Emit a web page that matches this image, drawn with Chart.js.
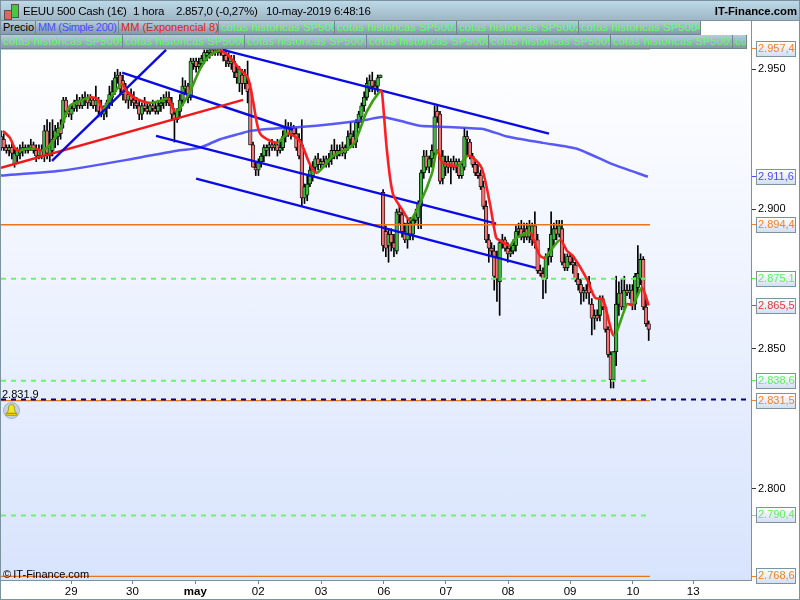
<!DOCTYPE html>
<html>
<head>
<meta charset="utf-8">
<style>
  html, body { margin: 0; padding: 0; background: #fff; }
  #page { position: relative; width: 800px; height: 600px; overflow: hidden; font-family: "Liberation Sans", sans-serif; }
  #page div { position: absolute; box-sizing: border-box; }
  #plotBg { left: 1px; top: 48px; width: 750px; height: 532px; background: linear-gradient(#ffffff, #d8e4fd); }
  canvas { position: absolute; left: 0; top: 0; }
  #head { left: 0; top: 0; width: 800px; height: 21px; background: linear-gradient(#bcd9e8, #9fb6c4); border: 1px solid #7c929f; font-size: 11.5px; letter-spacing: -.25px; line-height: 20px; white-space: pre; color: #000; }
  .tab { height: 14px; background: linear-gradient(#b4cedc, #8299a8); border-right: 1px solid #6f8591; border-bottom: 1px solid #6f8591; font-size: 11px; line-height: 13px; padding-left: 2px; color: #66ff66; white-space: nowrap; overflow: hidden; letter-spacing: .2px; }
  #frameR { left: 751px; top: 20px; width: 1px; height: 561px; background: #7c929f; }
  #frameB { left: 0; top: 580px; width: 752px; height: 1px; background: #7c929f; }
  #frameL { left: 0; top: 20px; width: 1px; height: 580px; background: #7c929f; }
  #frameO { left: 799px; top: 0; width: 1px; height: 600px; background: #7c929f; }
  #frameU { left: 0; top: 599px; width: 800px; height: 1px; background: #7c929f; }
</style>
<script src="https://cdn.jsdelivr.net/npm/chart.js@4"></script>
</head>
<body>
<div id="page">
  <div id="plotBg"></div>
  <canvas id="chart" width="800" height="600"></canvas>
  <div id="head"></div>
  <div id="tabs"></div>
  <div id="frameR"></div><div id="frameB"></div><div id="frameL"></div><div id="frameO"></div><div id="frameU"></div>
  <div style="left:2px;top:388px;font-size:11px;line-height:13px;color:#000">2.831,9</div>
  <svg style="position:absolute;left:3px;top:402px" width="17" height="17" viewBox="0 0 17 17">
    <circle cx="8.5" cy="8.5" r="8" fill="#c3d2e2" stroke="#9fb2c6"/>
    <path d="M8.5 2.5c-2.4 0-3 2-3 4 0 2.5-1 3.7-2 4.700h10c-1-1-2-2.200-2-4.700 0-2-.6-4-3-4z" fill="#f6e61c" stroke="#8a7c10" stroke-width=".7"/>
    <rect x="3" y="11.500" width="11" height="1.800" fill="#e8c90c" stroke="#8a7c10" stroke-width=".5"/>
  </svg>
  <div style="left:3px;top:568px;font-size:11px;line-height:13px;color:#000">©&#8201;IT-Finance.com</div>
</div>

<script>
// bougies 1 hora, de izquierda a derecha
const opens = [
  2926,2925,2922,2921,2922,2916,2919,2920,2921,2922, 2921,2922,2923,2921,2919,2921,2919,2928,2919,2921,
  2925,2926,2929,2931,2939,2935,2934,2936,2937,2939, 2937,2939,2940,2938,2939,2937,2939,2937,2934,2936,
  2938,2940,2942,2947,2948,2946,2943,2939,2941,2939, 2938,2937,2934,2937,2936,2935,2937,2936,2935,2937,
  2938,2939,2940,2938,2934,2932,2935,2939,2943,2944, 2940,2952,2953,2951,2952,2953,2955,2956,2957,2956,
  2957,2956,2957,2955,2953,2952,2953,2949,2945,2948, 2945,2945,2943,2923,2915,2914,2917,2919,2921,2922,
  2923,2922,2923,2921,2922,2926,2929,2927,2929,2927, 2925,2923,2904,2905,2909,2912,2915,2918,2916,2917,
  2916,2918,2918,2921,2919,2921,2922,2920,2922,2925, 2926,2924,2931,2933,2937,2940,2943,2946,2944,2944,
  2947,2906,2892,2887,2891,2888,2885,2899,2898,2892, 2889,2895,2891,2896,2897,2901,2913,2919,2915,2918,
  2920,2935,2934,2911,2915,2917,2915,2917,2915,2917, 2912,2915,2926,2924,2919,2916,2913,2912,2908,2901,
  2889,2886,2885,2883,2874,2888,2889,2886,2884,2885, 2887,2892,2893,2890,2893,2890,2889,2894,2889,2878,
  2877,2875,2883,2883,2889,2893,2891,2893,2881,2879, 2883,2881,2880,2875,2873,2870,2871,2874,2866,2861,
  2862,2862,2868,2865,2857,2848,2839,2849,2866,2870, 2865,2871,2870,2871,2866,2872,2875,2882,2865,2859
];
const highs = [
  2928,2927,2923,2923,2924,2922,2922,2923,2924,2923, 2923,2925,2924,2923,2923,2923,2930,2932,2931,2932,
  2930,2931,2932,2940,2940,2936,2937,2939,2941,2940, 2941,2942,2941,2941,2940,2944,2940,2939,2937,2939,
  2944,2946,2949,2950,2949,2948,2945,2942,2943,2942, 2940,2939,2938,2940,2938,2938,2939,2938,2939,2940,
  2941,2942,2942,2940,2936,2936,2941,2947,2946,2945, 2954,2954,2954,2954,2955,2957,2957,2958,2958,2958,
  2958,2958,2958,2957,2956,2955,2955,2951,2951,2950, 2950,2953,2945,2924,2917,2918,2920,2923,2923,2924,
  2925,2924,2925,2924,2928,2932,2931,2931,2930,2929, 2927,2932,2909,2912,2916,2917,2919,2920,2918,2919,
  2919,2920,2923,2925,2923,2923,2924,2923,2928,2931, 2928,2932,2935,2938,2942,2947,2948,2949,2946,2948,
  2948,2907,2894,2893,2893,2891,2900,2901,2899,2895, 2897,2897,2897,2900,2903,2914,2921,2921,2919,2923,
  2937,2937,2935,2921,2919,2919,2918,2919,2918,2918, 2917,2929,2928,2925,2920,2917,2916,2914,2910,2903,
  2891,2888,2887,2885,2889,2891,2890,2888,2887,2889, 2894,2895,2896,2895,2895,2896,2895,2899,2891,2880,
  2879,2884,2886,2899,2895,2896,2896,2896,2884,2884, 2884,2883,2881,2877,2875,2872,2873,2876,2868,2864,
  2864,2869,2869,2866,2858,2849,2849,2876,2874,2875, 2876,2873,2873,2873,2877,2887,2884,2883,2868,2860
];
const lows = [
  2921,2921,2920,2919,2918,2915,2917,2918,2919,2920, 2920,2921,2920,2917,2918,2918,2917,2918,2917,2919,
  2922,2923,2925,2929,2933,2933,2932,2935,2935,2936, 2936,2937,2936,2937,2936,2935,2933,2933,2932,2933,
  2936,2937,2941,2945,2941,2939,2938,2936,2937,2936, 2936,2932,2932,2935,2934,2934,2935,2934,2934,2935,
  2936,2937,2937,2932,2924,2931,2933,2937,2941,2938, 2939,2950,2949,2950,2951,2952,2953,2954,2955,2955,
  2955,2955,2953,2951,2951,2950,2947,2945,2942,2941, 2943,2938,2923,2915,2912,2912,2915,2917,2919,2919,
  2921,2921,2919,2920,2921,2924,2926,2925,2926,2921, 2918,2901,2902,2903,2908,2910,2913,2914,2914,2915,
  2915,2915,2916,2918,2918,2919,2919,2918,2921,2923, 2922,2922,2929,2931,2935,2939,2942,2942,2941,2942,
  2947,2885,2883,2881,2885,2883,2884,2895,2890,2888, 2886,2889,2889,2895,2893,2893,2911,2914,2913,2915,
  2919,2931,2909,2909,2912,2913,2909,2914,2913,2911, 2911,2914,2919,2918,2915,2912,2911,2907,2900,2888,
  2881,2883,2871,2867,2862,2886,2885,2881,2883,2884, 2885,2890,2889,2888,2889,2888,2887,2886,2877,2876,
  2868,2870,2880,2881,2887,2889,2890,2880,2878,2878, 2880,2877,2874,2871,2866,2867,2868,2866,2855,2857,
  2860,2860,2864,2856,2847,2836,2836,2844,2862,2864, 2864,2869,2868,2864,2864,2870,2873,2864,2858,2853
];
const closes = [
  2922,2922,2921,2922,2920,2920,2921,2921,2922,2921, 2922,2923,2921,2919,2921,2919,2928,2920,2923,2925,
  2928,2929,2927,2939,2935,2934,2936,2938,2939,2937, 2939,2940,2938,2939,2937,2939,2935,2934,2936,2938,
  2941,2942,2947,2948,2943,2941,2939,2941,2939,2938, 2937,2934,2937,2936,2935,2937,2936,2935,2937,2938,
  2939,2940,2938,2934,2932,2935,2939,2944,2944,2940, 2953,2953,2951,2952,2954,2956,2956,2957,2956,2957,
  2956,2957,2955,2953,2952,2953,2949,2947,2950,2945, 2948,2942,2923,2915,2914,2917,2919,2922,2922,2923,
  2922,2923,2921,2922,2926,2929,2927,2929,2927,2922, 2919,2904,2908,2909,2914,2915,2918,2916,2917,2916,
  2918,2917,2921,2919,2921,2920,2920,2922,2926,2927, 2923,2931,2934,2937,2940,2945,2946,2944,2943,2947,
  2948,2887,2886,2891,2888,2886,2899,2898,2892,2889, 2895,2891,2896,2898,2902,2913,2919,2915,2918,2921,
  2933,2933,2910,2919,2917,2915,2917,2915,2917,2912, 2916,2926,2925,2919,2916,2913,2912,2908,2901,2889,
  2886,2885,2876,2875,2888,2889,2886,2884,2885,2887, 2892,2893,2890,2892,2890,2894,2894,2888,2878,2877,
  2875,2883,2884,2891,2893,2891,2894,2881,2879,2883, 2881,2880,2875,2873,2870,2871,2870,2870,2861,2862,
  2861,2868,2865,2857,2848,2839,2849,2866,2870,2865, 2871,2870,2871,2866,2876,2877,2882,2865,2859,2857
];

// medias moviles
const emaX = [0.7,3.3,5.2,7,9.6,12.5,15.1,17,19.2,21.8,23.6,25.5,29.2,32.8,35.4,37.6,40.2,44.6,46.5,49.4,52,55,58.7,61.6,64.2,66,69.7,73.4,77,80.8,83.8,88.2,91.1,93,95.6,101.8,105.9,110.3,114,116.6,122.5,129.9,135,139.9,140.6,142.4,144.6,148.3,150.9,154.6,159,160.9,163,168.6,172,174.2,177.5,180.4,182.7,184.1,187.8,189.7,195.2,197,198.9,200.7,206.3,208.9,211,216.2,219.2,222.1,226.2,231,233.2,236.5,239];
const emaY = [2928,2925.5,2921.6,2921,2921.6,2921.6,2921,2922,2924.4,2928.7,2933,2937,2938.7,2940,2939.5,2936,2939.5,2944.8,2942,2939.8,2938.7,2938,2938.7,2939.5,2935,2936,2942,2950,2955,2956.6,2955,2950,2947,2938.7,2927,2923.7,2927,2924.4,2916,2913,2919,2923,2935,2942.3,2941.6,2921,2905.5,2899.4,2896,2902,2912.7,2921,2916.6,2915.5,2919,2918.4,2914.4,2902,2889.8,2888.7,2887,2889.4,2891.6,2887.6,2883.3,2882.6,2889,2885,2883.3,2875,2868.3,2867.6,2854.7,2866,2865.8,2871.9,2865.5];
const smaX = [0,21.8,48.7,64.9,73.4,80.8,88.2,91.9,98.2,110.3,122.5,135,140.6,147.2,154.6,162,172,177.9,186.7,200,212.5,225.8,238.7];
const smaY = [2912,2913.7,2918,2920.9,2922,2925,2927,2928,2928.7,2929.4,2930.5,2932,2933,2931.6,2929.8,2929.5,2929,2928.7,2926,2923.7,2921.6,2916,2911.6];

// lineas de tendencia: [x1, precio1, x2, precio2]
const upLine = [18.8, 2917.3, 60.9, 2957];
const redLine = [0, 2914.8, 89.3, 2939.1];
const channelA = [44.7, 2948.8, 107.7, 2928.4];
const channelB = [57.2, 2926.2, 182.7, 2894.8];
const channelC = [72, 2910.9, 197.4, 2879];
const channelD = [81.9, 2957, 202.2, 2927];

// niveles horizontales
const greenLevels = [2875.1, 2838.6, 2790.4];
const orangeLevels = [2957.4, 2894.4, 2831.5, 2768.6];
const alertLevel = 2831.9;

// ejes
const dayTicks = [25.9, 48.5, 71.7, 94.9, 118.1, 141.3, 164.2, 187.1, 210, 233.2, 255.4];
const dayLabels = ['29', '30', 'may', '02', '03', '06', '07', '08', '09', '10', '13'];
const priceTicks = [2950, 2900, 2850, 2800];
const priceLabels = ['2.950', '2.900', '2.850', '2.800'];
const tagValues = [2957.4, 2911.6, 2894.4, 2875.1, 2865.5, 2838.6, 2831.5, 2790.4, 2768.6];
const tagLabels = ['2.957,4', '2.911,6', '2.894,4', '2.875,1', '2.865,5', '2.838,6', '2.831,5', '2.790,4', '2.768,6'];
const tagColors = ['#f08428', '#4a4aff', '#f08428', '#5cf25c', '#e03c3c', '#5cf25c', '#f08428', '#5cf25c', '#f08428'];

// cabecera y pestañas
const headLefts = [22, 132, 175, 265];
const headTexts = ['EEUU 500 Cash (1€)', '1 hora', '2.857,0 (-0,27%)', '10-may-2019 6:48:16'];
const row1Names = ['Precio', 'MM (Simple 200)', 'MM (Exponencial 8)', 'cotas historicas SP500', 'cotas historicas SP5002', 'cotas historicas SP5003', 'cotas historicas SP5004'];
const row1Lefts = [1, 36, 119, 219, 335, 457, 579];
const row1Widths = [35, 83, 100, 116, 122, 122, 122];
const row1Colors = ['#000', '#4a4aff', '#e02020'];
const row2Names = ['cotas historicas SP5005', 'cotas historicas SP5006', 'cotas historicas SP5007', 'cotas historicas SP5008', 'cotas historicas SP5009', 'cotas historicas SP50010', 'cotas historicas SP50011'];

const head = document.querySelector('#head');
headTexts.forEach(function (t, i) {
  head.innerHTML += '<span style="position:absolute;left:' + headLefts[i] + 'px;top:0">' + t + '</span>';
});
head.innerHTML += '<span style="position:absolute;right:2px;top:0;font-weight:bold;font-size:11.3px;letter-spacing:0">IT-Finance.com</span>';
head.innerHTML += '<span style="position:absolute;left:3px;top:9px;width:6px;height:8px;background:#e86060;border:1px solid #555"></span>';
head.innerHTML += '<span style="position:absolute;left:10px;top:3px;width:6px;height:12px;background:#44c844;border:1px solid #555"></span>';

const tabs = document.querySelector('#tabs');
function addTab(text, left, top, width, color, spacing) {
  const d = document.createElement('div');
  d.className = 'tab';
  d.textContent = text;
  d.style.left = left + 'px';
  d.style.top = top + 'px';
  d.style.width = width + 'px';
  if (color) d.style.color = color;
  if (spacing !== undefined) d.style.letterSpacing = spacing + 'px';
  tabs.appendChild(d);
}
row1Names.forEach(function (t, i) {
  addTab(t, row1Lefts[i], 21, row1Widths[i], row1Colors[i], i === 1 ? -0.35 : (i < 3 ? 0 : undefined));
});
row2Names.forEach(function (t, i) {
  addTab(t, 1 + i * 122, 35, i === 6 ? 14 : 122);
});

function lineDs(xs, ys, color, width, order, extra) {
  return Object.assign({
    type: 'line',
    data: xs.map(function (x, i) { return { x: x, y: ys[i] }; }),
    borderColor: color,
    borderWidth: width,
    pointRadius: 0,
    tension: 0,
    fill: false,
    order: order
  }, extra || {});
}
function trend(seg, color) {
  return lineDs([seg[0], seg[2]], [seg[1], seg[3]], color, 2.4, 1);
}
function level(v, color, width, dash, endX) {
  return lineDs([0, endX], [v, v], color, width, 3, { borderDash: dash });
}

const lastBar = closes.length - 0.5;
const datasets = [
  {
    label: 'mechas',
    data: highs.map(function (h, i) { return { x: i, y: [lows[i], h] }; }),
    backgroundColor: '#000',
    barThickness: 1,
    grouped: false,
    order: 6
  },
  {
    label: 'cuerpos',
    data: opens.map(function (o, i) { return { x: i, y: [o, closes[i]] }; }),
    backgroundColor: function (c) { return closes[c.dataIndex] >= opens[c.dataIndex] ? '#3fb43f' : '#f07272'; },
    borderColor: '#000',
    borderWidth: 0.8,
    borderSkipped: false,
    barThickness: 3.6,
    grouped: false,
    order: 5
  },
  lineDs(smaX, smaY, 'rgba(60,60,245,0.85)', 2.5, 2, { tension: 0.2 }),
  lineDs(emaX, emaY, '#ff1e1e', 2.6, 0, {
    tension: 0.25,
    segment: {
      borderColor: function (c) { return c.p1.parsed.y >= c.p0.parsed.y ? '#3f9f14' : '#ff1e1e'; }
    }
  }),
  trend(upLine, '#0a0ae6'),
  trend(redLine, '#f01818'),
  trend(channelA, '#0a0ae6'),
  trend(channelB, '#0a0ae6'),
  trend(channelC, '#0a0ae6'),
  trend(channelD, '#0a0ae6'),
  level(alertLevel, '#00008c', 2, [5, 5], 276.75)
];
greenLevels.forEach(function (v) { datasets.push(level(v, '#66f766', 2, [5, 5], lastBar)); });
orangeLevels.forEach(function (v) { datasets.push(level(v, '#e8761c', 1.4, [], lastBar)); });

// marco de las etiquetas de precio, debajo del texto del eje
const tagBoxes = {
  id: 'tagBoxes',
  beforeDraw: function (chart) {
    const c = chart.ctx;
    const y = chart.scales.y;
    tagValues.forEach(function (v) {
      const py = Math.round(y.getPixelForValue(v));
      const g = c.createLinearGradient(0, py - 7, 0, py + 7);
      g.addColorStop(0, '#ffffff');
      g.addColorStop(1, '#d4dff2');
      c.fillStyle = g;
      c.fillRect(756.5, py - 7.5, 39, 15);
      c.strokeStyle = '#7c929f';
      c.lineWidth = 1;
      c.strokeRect(756.5, py - 7.5, 39, 15);
    });
  }
};

new Chart(document.querySelector('#chart').getContext('2d'), {
  type: 'bar',
  data: { datasets: datasets },
  plugins: [tagBoxes],
  options: {
    responsive: false,
    animation: false,
    layout: { padding: { left: 1, top: 48, right: 0, bottom: 0 } },
    plugins: { legend: { display: false }, tooltip: { enabled: false } },
    scales: {
      x: {
        type: 'linear',
        offset: false,
        min: 0,
        max: 276.75,
        grid: { display: true, offset: false, drawOnChartArea: false, drawTicks: true, tickLength: 4, tickColor: '#6f8591' },
        border: { display: false },
        afterBuildTicks: function (axis) { axis.ticks = dayTicks.map(function (v) { return { value: v }; }); },
        afterFit: function (axis) { axis.height = 20; },
        ticks: {
          autoSkip: false,
          maxRotation: 0,
          padding: 1,
          color: '#000',
          font: function (c) { return { family: 'Liberation Sans', size: 11.5, weight: c.index === 2 ? 'bold' : 'normal' }; },
          callback: function (v) { return dayLabels[dayTicks.indexOf(v)]; }
        }
      },
      y: {
        position: 'right',
        min: 2767.31,
        max: 2957.65,
        grid: {
          display: true,
          drawOnChartArea: false,
          tickLength: 5,
          tickColor: function (c) {
            const k = tagValues.indexOf(c.tick.value);
            return k >= 0 ? tagColors[k] : '#333';
          }
        },
        border: { display: false },
        afterBuildTicks: function (axis) {
          axis.ticks = priceTicks.concat(tagValues).map(function (v) { return { value: v }; });
        },
        afterFit: function (axis) { axis.width = 49; },
        ticks: {
          autoSkip: false,
          padding: 2,
          font: { family: 'Liberation Sans', size: 11 },
          color: function (c) {
            const k = tagValues.indexOf(c.tick.value);
            return k >= 0 ? tagColors[k] : '#000';
          },
          callback: function (v) {
            const k = tagValues.indexOf(v);
            return k >= 0 ? tagLabels[k] : priceLabels[priceTicks.indexOf(v)];
          }
        }
      }
    }
  }
});
</script>
</body>
</html>
